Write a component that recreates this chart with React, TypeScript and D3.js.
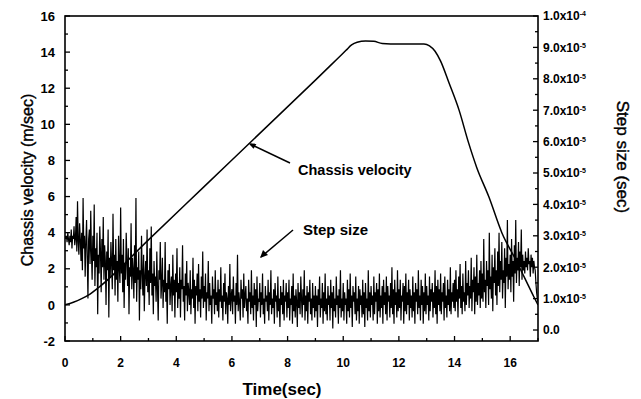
import React from 'react';
import * as d3 from 'd3';

// Chassis velocity (m/sec) read points
const velTime = [0, 0.3, 0.6, 0.9, 1.2, 3, 5, 7, 9, 9.8, 10.1, 10.3, 10.5, 10.8, 11.1, 11.4, 12, 12.9, 13.1, 13.3, 13.5, 13.8, 14.16, 14.5, 14.8, 15.23, 15.7, 16.2, 16.55, 16.85, 17.0];
const velValue = [0, 0.15, 0.35, 0.6, 0.95, 3.6, 6.55, 9.5, 12.45, 13.65, 14.1, 14.4, 14.55, 14.62, 14.6, 14.48, 14.45, 14.45, 14.35, 14.05, 13.5, 12.3, 10.8, 9.0, 7.6, 6.0, 4.0, 2.5, 1.4, 0.45, 0.0];

// Step size samples (x1e-5 sec), one every 0.025 sec from t = 0
const stepDt = 0.025;
const stepValues = [
  3.0,2.9,3.0,2.8,3.1,2.9,2.7,3.0,2.8,3.2,2.6,3.0,2.9,3.3,2.7,2.9,3.6,2.5,4.1,2.8,
  2.4,3.4,2.9,2.2,3.1,1.9,4.2,2.6,3.0,1.7,2.8,3.5,2.3,1.0,2.9,3.2,2.1,3.8,2.5,1.6,
  3.0,2.2,4.0,1.4,2.6,2.0,3.1,0.5,2.4,1.8,3.3,2.5,1.2,2.9,2.0,3.6,1.6,2.7,2.2,0.8,
  2.5,1.9,3.2,0.4,2.3,1.7,2.8,2.1,1.3,3.7,1.9,2.4,1.1,2.9,1.6,2.2,0.9,3.0,2.0,1.5,
  3.9,1.8,2.4,1.2,2.9,0.7,2.1,1.6,3.1,2.2,1.4,2.6,0.5,2.0,1.7,3.4,1.3,2.3,1.9,1.0,
  2.7,1.5,4.2,0.9,2.0,1.6,2.5,0.3,1.9,1.3,3.0,1.8,1.1,2.4,0.6,1.7,2.2,1.4,3.2,1.2,
  1.9,0.8,2.6,1.5,3.3,1.1,1.8,0.5,2.2,1.4,1.7,0.9,2.5,1.3,0.3,1.9,1.6,2.8,1.0,1.5,
  2.3,0.7,1.6,1.2,2.8,0.9,1.5,0.2,1.9,1.3,2.1,0.8,1.4,1.7,0.6,2.4,1.1,1.6,0.4,1.8,
  1.2,2.6,0.7,1.5,1.0,2.0,0.4,1.6,1.3,2.7,0.9,1.4,0.3,1.8,1.1,2.2,0.6,1.5,1.2,0.8,
  1.9,0.5,1.3,1.0,2.3,0.7,1.6,0.2,1.4,1.1,1.8,0.6,2.1,0.9,1.3,0.4,1.7,1.0,2.5,0.7,
  1.4,0.9,1.8,0.3,1.2,1.0,2.2,0.6,1.5,0.8,1.1,0.2,1.7,1.0,1.3,0.5,1.9,0.8,1.2,0.6,
  1.6,0.4,1.3,0.9,2.0,0.7,1.1,0.3,1.5,0.9,1.8,0.5,1.2,1.0,0.2,1.4,0.8,2.1,0.6,1.1,
  1.3,0.5,1.7,0.9,1.1,0.2,1.5,0.8,2.4,0.6,1.2,0.9,0.3,1.6,1.0,1.3,0.4,1.8,0.7,1.1,
  1.4,0.6,1.0,0.2,1.6,0.9,1.2,0.5,1.9,0.7,1.1,0.3,1.5,0.8,1.3,0.1,1.7,0.6,1.0,0.9,
  1.5,0.4,1.2,0.8,1.8,0.5,1.0,0.2,1.4,0.9,1.1,0.6,1.6,0.3,1.2,0.8,1.9,0.5,1.0,0.7,
  1.3,0.2,1.5,0.9,1.1,0.4,1.7,0.6,1.0,0.1,1.4,0.8,1.2,0.5,1.6,0.3,1.1,0.9,1.5,0.4,
  1.2,0.7,1.6,0.3,1.0,0.8,1.4,0.2,1.8,0.6,1.1,0.4,1.3,0.9,0.1,1.5,0.7,1.2,0.5,1.7,
  1.0,0.4,1.3,0.8,1.9,0.3,1.1,0.6,1.4,0.2,1.2,0.9,1.6,0.5,1.0,0.3,1.5,0.7,1.1,0.4,
  1.4,0.6,1.1,0.1,1.3,0.8,1.7,0.4,1.0,0.7,1.5,0.2,1.2,0.6,1.8,0.5,1.0,0.3,1.4,0.8,
  1.1,0.3,1.6,0.7,1.2,0.05,1.4,0.6,1.0,0.4,1.7,0.8,1.1,0.2,1.3,0.7,1.9,0.4,1.0,0.6,
  1.5,0.3,1.2,0.8,1.0,0.2,1.6,0.6,1.3,0.4,1.8,0.7,1.1,0.1,1.4,0.9,1.2,0.5,1.7,0.3,
  1.0,0.6,1.4,0.2,1.3,0.8,1.1,0.4,1.6,0.5,1.2,0.1,1.5,0.7,1.0,0.3,1.9,0.6,1.2,0.4,
  1.4,0.8,1.1,0.3,1.7,0.5,1.2,0.9,1.5,0.2,1.3,0.6,1.8,0.4,1.1,0.7,1.4,0.2,1.6,0.8,
  1.2,0.5,1.7,0.3,1.4,0.9,1.1,0.4,1.5,0.7,2.0,0.5,1.3,0.2,1.6,0.8,1.2,0.4,1.9,0.6,
  1.3,0.7,1.6,0.3,1.1,0.9,1.5,0.2,1.4,0.6,1.8,0.5,1.2,0.8,1.6,0.3,1.3,0.7,1.1,0.4,
  1.7,0.6,1.2,0.2,1.5,0.9,1.3,0.5,1.9,0.7,1.1,0.3,1.6,0.8,1.4,0.2,1.2,0.6,1.8,0.5,
  1.4,0.8,1.1,0.3,1.7,0.6,1.3,0.9,1.5,0.4,1.2,0.7,1.9,0.5,1.4,0.2,1.6,0.8,1.3,0.6,
  1.8,0.5,1.2,0.9,1.5,0.3,1.7,0.7,1.1,0.4,1.6,0.8,1.3,0.6,2.0,0.5,1.2,0.9,1.5,0.7,
  1.6,0.6,1.9,0.9,1.3,0.4,1.7,1.0,2.1,0.7,1.4,0.5,1.8,0.9,1.2,0.6,2.2,0.8,1.5,1.1,
  1.9,0.7,1.4,1.0,2.3,0.6,1.6,1.2,2.0,0.5,1.7,0.9,2.4,0.8,1.5,1.1,1.9,0.7,2.2,1.0,
  1.8,0.9,2.9,1.2,1.6,0.7,2.2,1.4,1.9,0.8,3.1,1.3,1.7,1.0,2.4,0.6,2.0,1.5,2.6,1.1,
  1.9,0.8,2.5,1.4,3.1,1.2,2.2,1.6,2.8,1.0,1.9,1.5,2.6,0.7,2.3,1.7,3.5,1.3,2.1,1.6,
  2.4,1.2,2.9,1.7,2.2,0.9,2.7,1.8,3.5,1.5,2.3,1.9,2.8,1.4,2.5,2.0,3.2,1.6,2.4,1.9,
  2.2,1.8,2.5,2.0,2.3,1.9,2.6,2.1,2.2,1.7,2.4,2.0,2.3,1.8,2.2,2.0,1.9,1.5,1.2,1.0,
  0.9,
];

const xTicks = [0, 2, 4, 6, 8, 10, 12, 14, 16];
const leftTicks = [-2, 0, 2, 4, 6, 8, 10, 12, 14, 16];
const rightTicks = [0, 1, 2, 3, 4, 5, 6, 7, 8, 9, 10]; // x1e-5
const rightMantissa = ['0.0', '1.0', '2.0', '3.0', '4.0', '5.0', '6.0', '7.0', '8.0', '9.0', '1.0'];
const rightExponent = ['', '-5', '-5', '-5', '-5', '-5', '-5', '-5', '-5', '-5', '-4'];

const L = 65, R = 538, T = 16, B = 341;

export default function App() {
  const x = d3.scaleLinear().domain([0, 17]).range([L, R]);
  const yL = d3.scaleLinear().domain([-2, 16]).range([B, T]);
  const yR = d3.scaleLinear().domain([-0.35, 10]).range([B, T]);

  const velLine = d3.line<number>()
    .x((_, i) => x(velTime[i]))
    .y((d) => yL(d))
    .curve(d3.curveMonotoneX);
  const stepLine = d3.line<number>()
    .x((_, i) => x(i * stepDt))
    .y((d) => yR(d));

  const xMinor = d3.range(0, 17.01, 1);
  const lMinor = d3.range(-2, 16.01, 1);
  const rMinor = d3.range(0, 10.01, 0.5);
  const font = "'Liberation Sans', Arial, sans-serif";
  const arrowTipX = x(6.56) + 1;
  const arrowTipY = yL(8.95);

  return (
    <svg width={641} height={399} style={{ position: 'absolute', left: 0, top: 0, background: '#fff' }}>
      <defs>
        <clipPath id="plot">
          <rect x={L} y={T} width={R - L} height={B - T} />
        </clipPath>
      </defs>
      <g clipPath="url(#plot)">
        <path d={stepLine(stepValues) || ''} fill="none" stroke="#000" strokeWidth={1.2} />
        <path d={velLine(velValue) || ''} fill="none" stroke="#000" strokeWidth={1.5} />
      </g>
      {/* frame */}
      <rect x={L} y={T} width={R - L} height={B - T} fill="none" stroke="#000" strokeWidth={1.6} />
      {/* bottom ticks */}
      {xMinor.map((v) => (
        <line key={'xm' + v} x1={x(v)} x2={x(v)} y1={B} y2={B - (v % 2 === 0 ? 5 : 3)} stroke="#000" strokeWidth={1.3} />
      ))}
      {xTicks.map((v) => (
        <text key={'xt' + v} x={x(v)} y={367} textAnchor="middle" fontFamily={font} fontWeight="bold" fontSize={12}>{v}</text>
      ))}
      {/* left ticks */}
      {lMinor.map((v) => (
        <line key={'lm' + v} x1={L} x2={L + (v % 2 === 0 ? 5 : 3)} y1={yL(v)} y2={yL(v)} stroke="#000" strokeWidth={1.3} />
      ))}
      {leftTicks.map((v) => (
        <text key={'lt' + v} x={55} y={yL(v)} dy="0.36em" textAnchor="end" fontFamily={font} fontWeight="bold" fontSize={13}>{v}</text>
      ))}
      {/* right ticks */}
      {rMinor.map((v) => (
        <line key={'rm' + v} x1={R} x2={R - (Number.isInteger(v) ? 5 : 3)} y1={yR(v)} y2={yR(v)} stroke="#000" strokeWidth={1.3} />
      ))}
      {rightTicks.map((v, i) => (
        <text key={'rt' + v} x={543} y={yR(v)} dy="0.36em" fontFamily={font} fontWeight="bold" fontSize={12}>
          {rightExponent[i] ? `${rightMantissa[i]}x10` : rightMantissa[i]}
          {rightExponent[i] && (
            <tspan dy="-0.55em" fontSize={7}>{rightExponent[i]}</tspan>
          )}
        </text>
      ))}
      {/* axis titles */}
      <text x={282} y={395} textAnchor="middle" fontFamily={font} fontWeight="bold" fontSize={17}>Time(sec)</text>
      <text transform={`translate(33,180) rotate(-90)`} textAnchor="middle" fontFamily={font} fontSize={16} stroke="#000" strokeWidth={0.4}>Chassis velocity (m/sec)</text>
      <text transform={`translate(617,157) rotate(90)`} textAnchor="middle" fontFamily={font} fontSize={17} stroke="#000" strokeWidth={0.4}>Step size (sec)</text>
      {/* annotations */}
      <text x={298} y={175} fontFamily={font} fontWeight="bold" fontSize={14.5}>Chassis velocity</text>
      <line x1={290} y1={163} x2={arrowTipX + 2} y2={arrowTipY + 1} stroke="#000" strokeWidth={1.5} />
      <path d={`M${arrowTipX},${arrowTipY} l8,0.5 l-3,5 z`} fill="#000" />
      <text x={303} y={235} fontFamily={font} fontWeight="bold" fontSize={15}>Step size</text>
      <line x1={293} y1={230} x2={261} y2={257} stroke="#000" strokeWidth={1.5} />
      <path d={`M260,258 l3,-8 l5,5 z`} fill="#000" />
    </svg>
  );
}
